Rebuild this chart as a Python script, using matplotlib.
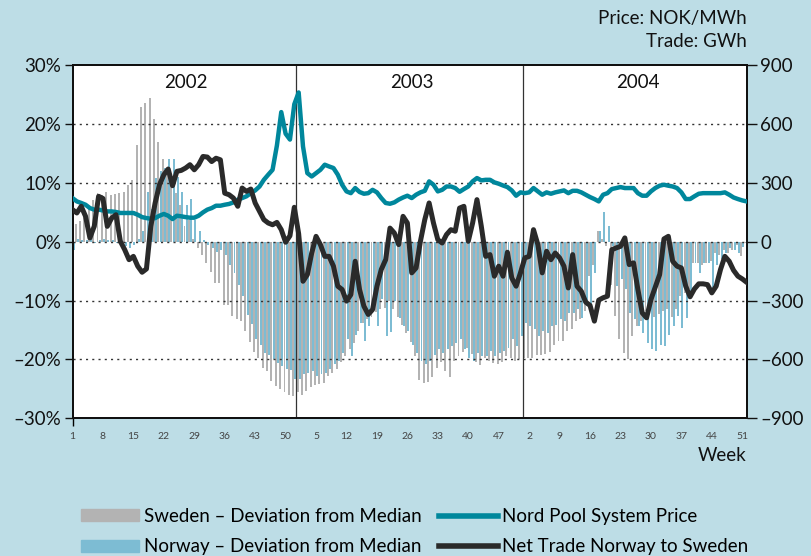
import matplotlib
matplotlib.use("Agg")
import matplotlib.pyplot as plt
import numpy as np
from matplotlib.patches import Patch
from matplotlib.lines import Line2D

# weekly values, 2002 wk1 .. 2004 wk52 (156 weeks)
sweden_dev = [
    0.8, 3.0, 3.5, 4.5, 6.0, 7.0, 8.3, 8.0, 8.4, 8.0, 8.1, 8.3, 8.5,
    9.7, 10.5, 16.4, 22.9, 23.6, 24.4, 20.8, 17.0, 14.0, 12.0, 10.0, 8.2, 6.3,
    2.6, 3.7, 0.5, -1.0, -2.2, -3.6, -5.2, -7.0, -7.0, -10.7, -10.8, -12.7, -13.2,
    -13.5, -15.2, -17.1, -18.8, -19.7, -21.4, -22.0, -23.7, -24.5, -25.1, -25.5, -26.0, -26.3,
    -25.6, -26.0, -25.3, -24.7, -24.4, -24.2, -24.0, -22.8, -22.3, -21.7, -20.5, -19.5, -18.3,
    -17.2, -15.2, -13.8, -13.2, -12.8, -12.0, -11.5, -11.2, -10.0, -11.5, -12.8, -14.2, -15.5,
    -17.0, -19.5, -23.5, -24.0, -23.8, -23.0, -21.5, -20.5, -22.0, -23.0, -20.2, -19.5, -18.8,
    -18.0, -19.0, -20.5, -21.0, -19.7, -20.3, -20.6, -20.8, -20.5, -19.5, -19.7, -20.3, -20.0,
    -19.7, -19.7, -19.7, -19.2, -19.2, -19.0, -18.8, -17.5, -16.9, -16.9, -15.2, -14.9, -13.5,
    -13.2, -11.8, -5.9, -3.9, 1.8, 0.5, -0.8, -7.3, -12.7, -16.6, -18.9, -20.0, -16.0,
    -14.4, -13.5, -11.8, -11.2, -12.8, -12.3, -11.8, -11.5, -12.8, -11.5, -9.3, -8.7, -8.1,
    -3.6, -3.6, -3.9, -3.6, -3.3, -2.0, -2.2, -1.4, -2.0, -1.4, -0.5, -2.5, -0.3,
]
norway_dev = [
    -1.4, 0.5, 0.3, 0.2, 0.5, -0.2, 0.3, 0.5, 0.3, 0.2, -0.3, -0.5, -0.8,
    -1.0, -0.5, 0.5, 1.8, 8.5, 5.5, 10.8, 12.0, 12.5, 14.0, 14.0, 11.0, 8.4,
    6.3, 7.2, 3.7, 1.8, 0.3, -0.5, -1.0, -1.8, -1.5, -2.2, -3.9, -5.3, -7.3,
    -9.3, -12.4, -14.0, -16.6, -17.5, -18.9, -19.3, -20.0, -20.6, -21.1, -21.6, -21.8, -23.4,
    -23.4, -22.5, -22.3, -22.0, -22.8, -22.5, -22.3, -21.7, -20.8, -20.3, -18.9, -16.6, -19.4,
    -15.8, -13.8, -16.9, -14.4, -11.5, -14.4, -9.8, -16.0, -15.4, -10.1, -12.9, -14.4, -15.2,
    -17.5, -18.9, -20.3, -20.8, -20.3, -19.2, -18.3, -18.9, -18.3, -17.8, -17.2, -16.6, -18.3,
    -19.7, -20.3, -18.9, -19.4, -19.4, -18.6, -19.4, -18.9, -18.6, -18.0, -16.6, -17.8, -16.0,
    -13.8, -14.4, -14.9, -16.0, -15.2, -15.5, -14.4, -14.1, -13.2, -13.5, -12.1, -12.1, -11.5,
    -12.9, -11.0, -12.1, -5.3, 1.8, 5.1, 2.6, -0.8, -7.6, -6.4, -8.1, -12.1, -13.2,
    -14.4, -15.5, -17.2, -18.3, -18.6, -17.5, -17.8, -15.8, -14.4, -12.7, -14.6, -12.9, -8.7,
    -3.6, -5.3, -3.6, -3.6, -8.1, -4.0, -3.0, -1.9, -1.1, -1.4, -2.0, -0.9, 0.3,
]
# NOK/MWh
system_price = [
    222, 205, 197, 188, 171, 163, 163, 159, 154, 154, 151, 146, 146,
    146, 146, 137, 125, 120, 117, 120, 132, 141, 132, 115, 132, 129,
    125, 122, 122, 132, 149, 163, 171, 183, 183, 188, 192, 200, 214,
    222, 231, 247, 261, 281, 315, 341, 366, 490, 660, 550, 520, 700,
    760, 485, 349, 332, 349, 366, 392, 383, 375, 341, 290, 256, 247,
    273, 253, 244, 247, 264, 251, 222, 197, 193, 200, 214, 225, 234,
    222, 239, 251, 259, 307, 290, 256, 264, 281, 281, 273, 254, 268,
    281, 307, 324, 312, 315, 315, 302, 295, 286, 278, 261, 234, 251,
    247, 251, 273, 256, 239, 251, 244, 251, 256, 261, 247, 259, 259,
    251, 239, 227, 217, 205, 239, 247, 268, 273, 278, 273, 273, 273,
    247, 234, 234, 256, 273, 285, 290, 285, 281, 273, 251, 217, 217,
    231, 244, 247, 247, 247, 247, 247, 251, 239, 225, 217, 210, 205,
]
# GWh
net_trade = [
    163, 146, 180, 129, 19, 78, 231, 220, 78, 120, 137, 2, -41,
    -92, -75, -125, -156, -139, 78, 197, 290, 341, 370, 285, 358, 363,
    375, 392, 366, 392, 434, 431, 408, 425, 417, 247, 239, 222, 180,
    273, 256, 268, 197, 154, 112, 95, 86, 98, 61, -3, 30, 175,
    40, -202, -168, -58, 27, -15, -75, -75, -125, -227, -244, -303, -270,
    -100, -244, -329, -371, -346, -227, -142, -92, 69, 44, -15, 129, 95,
    -159, -134, 2, 112, 197, 95, 10, -7, 36, 61, 53, 171, 180,
    2, 95, 214, 78, -75, -66, -176, -125, -176, -54, -185, -227, -159,
    -83, -75, 61, -15, -159, -49, -92, -58, -83, -125, -236, -66, -227,
    -253, -308, -325, -405, -298, -286, -278, -41, -32, -24, 19, -117, -108,
    -244, -363, -388, -295, -231, -168, 14, 27, -100, -125, -134, -227, -281,
    -241, -215, -215, -219, -261, -227, -142, -75, -100, -146, -176, -190, -207,
]
years = ["2002", "2003", "2004"]
week_labels = ["1", "8", "15", "22", "29", "36", "43", "50",
               "5", "12", "19", "26", "33", "40", "47",
               "2", "9", "16", "23", "30", "37", "44", "51"]

BG = "#bddde6"
GREY = "#b3b3b3"
LBLUE = "#7dbcd3"
TEAL = "#00879c"
DARK = "#2a2a2a"

plt.rcParams["font.family"] = ["Lato", "DejaVu Sans"]

fig = plt.figure(figsize=(8.11, 5.56), dpi=100, facecolor=BG)
ax = fig.add_axes([0.0894, 0.2477, 0.8312, 0.6354])
ax.set_facecolor("white")

x = np.arange(len(sweden_dev))
ax.bar(x - 0.25, sweden_dev, width=0.45, color=GREY, zorder=1)
ax.bar(x + 0.25, norway_dev, width=0.45, color=LBLUE, zorder=1)

ax.set_xlim(0, 155)
ax.set_ylim(-30, 30)
ax.set_yticks(range(-30, 31, 10))
ax.set_yticklabels([f"{v}%".replace("-", "\u2013") for v in range(-30, 31, 10)])
for v in range(-20, 21, 10):
    ax.axhline(v, color="#333333", lw=1.0, ls=(0, (1.5, 3)), zorder=2)

# year separators + labels
for k, yr in enumerate(years):
    if k > 0:
        ax.axvline(52 * k - 0.5, color="#333333", lw=0.9, zorder=2)
    ax.text(52 * k + 26, 27.1, yr, ha="center", va="center", fontsize=13.5, color="#111111")

ax.set_xticks(np.arange(0, 156, 7))
ax.set_xticklabels(week_labels, fontsize=7.5, color="#444444")
ax.tick_params(axis="x", length=6, width=1, pad=4, direction="out")
for t in ax.xaxis.get_major_ticks()[1:]:
    t.tick1line.set_visible(False)
ax.tick_params(axis="y", length=6, width=1, labelsize=13.5, pad=2, colors="#111111")

for s in ax.spines.values():
    s.set_linewidth(1.4)
    s.set_color("#111111")

ax2 = ax.twinx()
ax2.plot(x, system_price, color=TEAL, lw=3.2, solid_joinstyle="round", zorder=3)
ax2.plot(x, net_trade, color=DARK, lw=3.6, solid_joinstyle="round", zorder=4)
ax2.set_ylim(-900, 900)
ax2.set_yticks(range(-900, 901, 300))
ax2.set_yticklabels([str(v).replace("-", "\u2013") for v in range(-900, 901, 300)])
ax2.tick_params(axis="y", length=7, width=1, labelsize=13.5, pad=3, colors="#111111")
for s in ax2.spines.values():
    s.set_linewidth(1.4)
    s.set_color("#111111")

fig.text(0.921, 0.966, "Price: NOK/MWh", ha="right", va="center", fontsize=13.5, color="#111111")
fig.text(0.921, 0.926, "Trade: GWh", ha="right", va="center", fontsize=13.5, color="#111111")
fig.text(0.921, 0.181, "Week", ha="right", va="center", fontsize=13.5, color="#111111")

handles = [
    Patch(color=GREY),
    Patch(color=LBLUE),
    Line2D([], [], color=TEAL, lw=4),
    Line2D([], [], color=DARK, lw=4),
]
labels = ["Sweden \u2013 Deviation from Median", "Norway \u2013 Deviation from Median",
          "Nord Pool System Price", "Net Trade Norway to Sweden"]
fig.legend(handles, labels, loc="upper left", bbox_to_anchor=(0.1, 0.0865), ncol=2,
           frameon=False, fontsize=13.5, handlelength=3.1, handleheight=0.6,
           handletextpad=0.25, columnspacing=0.95, labelspacing=0.72,
           borderpad=0, borderaxespad=0)

fig.savefig("out.png", dpi=100, facecolor=BG)
